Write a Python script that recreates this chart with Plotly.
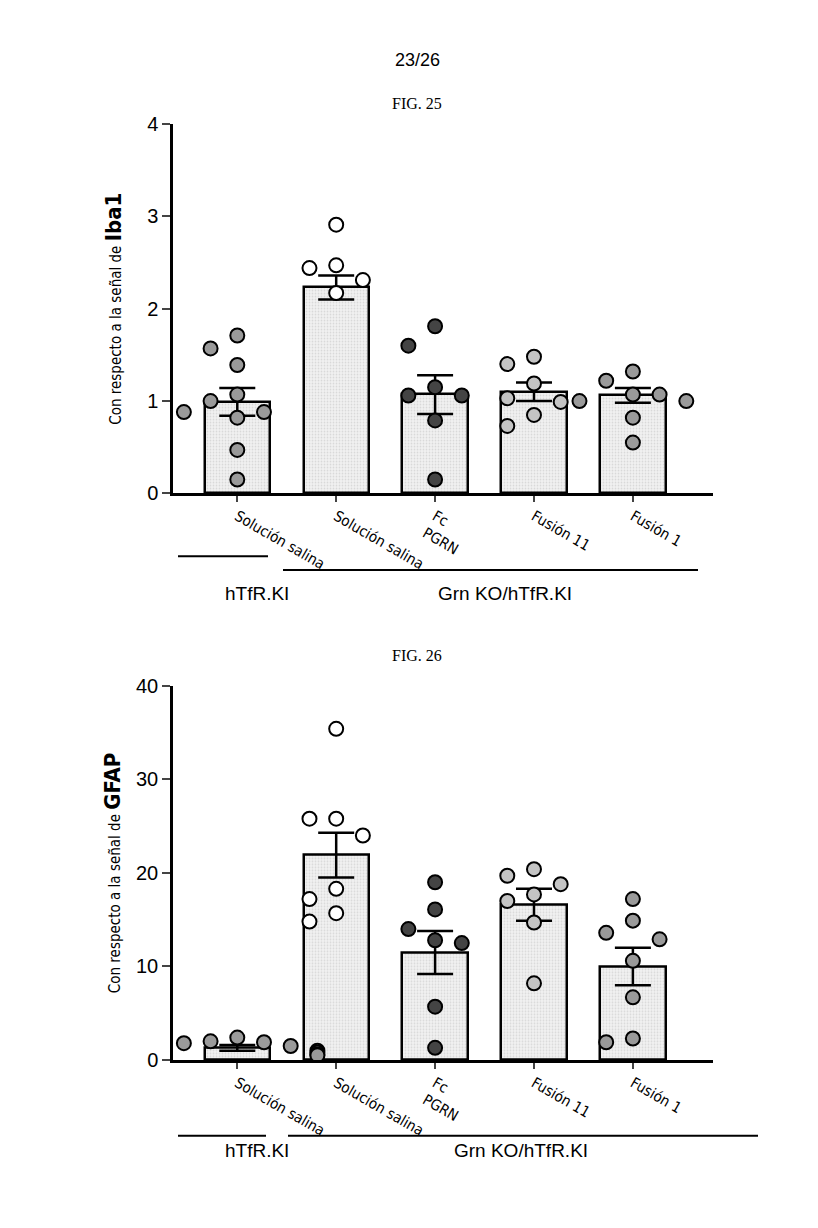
import plotly.graph_objects as go

groups = ["Solución salina", "Solución salina ", "Fc<br>PGRN", "Fusión 11", "Fusión 1"]
dot_colors = ["#9a9a9a", "#ffffff", "#444444", "#c4c4c4", "#9a9a9a"]

# FIG. 25 (Iba1)
iba1_pts = [
    [1.71, 1.57, 1.39, 1.07, 1.00, 0.88, 0.88, 0.82, 0.47, 0.15],
    [2.91, 2.47, 2.44, 2.31, 2.17],
    [1.81, 1.60, 1.15, 1.06, 1.06, 0.79, 0.15],
    [1.48, 1.40, 1.19, 1.03, 0.99, 0.85, 0.73],
    [1.32, 1.22, 1.07, 1.07, 1.00, 1.00, 0.82, 0.55],
]
iba1_mean = [0.99, 2.23, 1.07, 1.10, 1.06]
iba1_sem = [0.15, 0.13, 0.21, 0.10, 0.08]

# FIG. 26 (GFAP)
gfap_pts = [
    [2.4, 2.0, 1.9, 1.8, 1.5, 1.2, 1.0, 0.8, 0.6, 0.5],
    [35.4, 25.8, 25.8, 24.0, 18.3, 17.2, 15.7, 14.8],
    [19.0, 16.1, 14.0, 12.8, 12.5, 5.7, 1.3],
    [20.4, 19.7, 18.8, 17.7, 17.0, 14.7, 8.2],
    [17.2, 14.9, 13.6, 12.9, 10.6, 6.7, 2.3, 1.9],
]
gfap_mean = [1.3, 21.9, 11.5, 16.6, 10.0]
gfap_sem = [0.3, 2.4, 2.3, 1.7, 2.0]


def swarm(vals, center, tol, step=0.27):
    placed = []
    xs = []
    for v in vals:
        for k in [0, -1, 1, -2, 2, -3, 3]:
            x = center + k * step
            if all(abs(x - px) > 0.2 or abs(v - pv) > tol for px, pv in placed):
                break
        placed.append((x, v))
        xs.append(x)
    return xs


fig = go.Figure()
panels = [("x", "y", iba1_pts, iba1_mean, iba1_sem, 0.22),
          ("x2", "y2", gfap_pts, gfap_mean, gfap_sem, 2.2)]
for xa, ya, pts, mean, sem, tol in panels:
    fig.add_trace(go.Bar(
        x=list(range(5)), y=mean, xaxis=xa, yaxis=ya, width=0.66,
        marker=dict(color="#f2f2f2", line=dict(color="black", width=2.5),
                    pattern=dict(shape=".", fgcolor="#bdbdbd", size=3, solidity=0.3)),
        error_y=dict(type="data", array=sem, color="black", thickness=2.5, width=18),
        showlegend=False))
    for i, vals in enumerate(pts):
        fig.add_trace(go.Scatter(
            x=swarm(vals, i, tol), y=vals, xaxis=xa, yaxis=ya, mode="markers",
            marker=dict(size=14, color=dot_colors[i], line=dict(color="black", width=2)),
            showlegend=False))

xrange = [-0.65, 4.81]
common_x = dict(range=xrange, showline=True, linecolor="black", linewidth=2.5, ticks="outside",
                tickwidth=2, ticklen=6, tickvals=list(range(5)), ticktext=groups,
                tickfont=dict(family="DejaVu Sans Condensed", size=15, color="black"), showgrid=False)
common_y = dict(showline=True, linecolor="black", linewidth=2.5, ticks="outside", tickwidth=2,
                ticklen=8, showgrid=False, zeroline=False,
                tickfont=dict(family="Liberation Sans", size=20, color="black"))

fig.update_layout(
    width=818, height=1228, margin=dict(l=0, r=0, t=0, b=0),
    plot_bgcolor="white", paper_bgcolor="white", bargap=0,
    xaxis=dict(domain=[165 / 818, 705 / 818], anchor="y", **common_x),
    yaxis=dict(domain=[1 - 483 / 1228, 1 - 107 / 1228], anchor="x", range=[0, 4],
               tickvals=[0, 1, 2, 3, 4],
               title=dict(text="Con respecto a la señal de <b><span style='font-size:22px'>Iba1</span></b>",
                          font=dict(family="DejaVu Sans Condensed", size=15, color="black"), standoff=22),
               **common_y),
    xaxis2=dict(domain=[165 / 818, 705 / 818], anchor="y2", **common_x),
    yaxis2=dict(domain=[1 - 1060 / 1228, 1 - 679 / 1228], anchor="x2", range=[0, 40],
                tickvals=[0, 10, 20, 30, 40],
                title=dict(text="Con respecto a la señal de <b><span style='font-size:22px'>GFAP</span></b>",
                           font=dict(family="DejaVu Sans Condensed", size=15, color="black"), standoff=12),
                **common_y),
)


def paper_y(px):
    return 1 - px / 1228


texts = [("23/26", 409, 30, "Liberation Sans", 18), ("FIG. 25", 409, 75, "Liberation Serif", 16),
         ("FIG. 26", 409, 648, "Liberation Serif", 16),
         ("hTfR.KI", 215, 585, "Liberation Sans", 19), ("Grn KO/hTfR.KI", 497, 585, "Liberation Sans", 19),
         ("hTfR.KI", 215, 1165, "Liberation Sans", 19), ("Grn KO/hTfR.KI", 513, 1165, "Liberation Sans", 19)]
for t, x, y, f, s in texts:
    fig.add_annotation(text=t, x=x / 818, y=paper_y(y), xref="paper", yref="paper", showarrow=False,
                       font=dict(family=f, size=s, color="black"))

lines = [(170, 260, 547), (275, 690, 561), (170, 258, 1137), (280, 750, 1137)]
for x0, x1, y in lines:
    fig.add_shape(type="line", xref="paper", yref="paper", x0=x0 / 818, x1=x1 / 818,
                  y0=paper_y(y), y1=paper_y(y), line=dict(color="black", width=2))

fig.write_html("out.html")
